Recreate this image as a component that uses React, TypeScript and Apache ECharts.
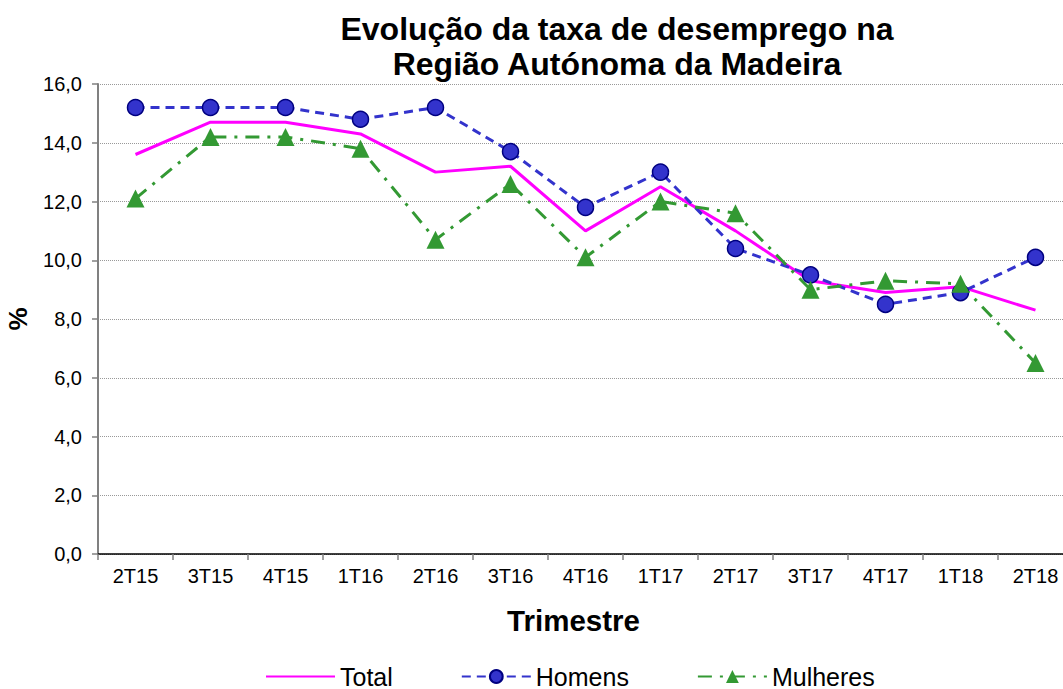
import React, { useEffect, useRef } from "react";
import * as echarts from "echarts";

const categories = ["2T15", "3T15", "4T15", "1T16", "2T16", "3T16", "4T16", "1T17", "2T17", "3T17", "4T17", "1T18", "2T18"];
const total = [13.6, 14.7, 14.7, 14.3, 13.0, 13.2, 11.0, 12.5, 11.0, 9.3, 8.9, 9.1, 8.3];
const homens = [15.2, 15.2, 15.2, 14.8, 15.2, 13.7, 11.8, 13.0, 10.4, 9.5, 8.5, 8.9, 10.1];
const mulheres = [12.1, 14.2, 14.2, 13.8, 10.7, 12.6, 10.1, 12.0, 11.6, 9.0, 9.3, 9.2, 6.5];

const FONT = "'Liberation Sans', Arial, sans-serif";

export default function App() {
  const ref = useRef<HTMLDivElement>(null);
  useEffect(() => {
    if (!ref.current) return;
    const chart = echarts.init(ref.current, null, { renderer: "svg" });
    chart.setOption({
      animation: false,
      backgroundColor: "#ffffff",
      textStyle: { fontFamily: FONT },
      title: {
        text: "Evolução da taxa de desemprego na\nRegião Autónoma da Madeira",
        left: 612,
        top: 6,
        textAlign: "center",
        textStyle: { fontFamily: FONT, fontSize: 32, fontWeight: "bold", color: "#000", lineHeight: 35 },
      },
      legend: {
        left: 260,
        top: 659,
        itemWidth: 69,
        itemHeight: 16,
        itemGap: 68,
        textStyle: { fontFamily: FONT, fontSize: 25, color: "#000" },
        data: [
          { name: "Total", itemStyle: { opacity: 0 } },
          { name: "Homens" },
          { name: "Mulheres" },
        ],
      },
      grid: { left: 98, top: 84, width: 975, height: 470, containLabel: false, outerBoundsMode: "none" },
      xAxis: {
        type: "category",
        data: categories,
        boundaryGap: true,
        name: "Trimestre",
        nameLocation: "middle",
        nameGap: 51,
        nameTextStyle: { fontFamily: FONT, fontSize: 29.5, fontWeight: "bold", color: "#000", padding: [0, 24, 0, 0] },
        axisLine: { lineStyle: { color: "#000", width: 1.5 } },
        axisTick: { show: true, length: 6, lineStyle: { color: "#808080", width: 1.5 } },
        axisLabel: { fontFamily: FONT, fontSize: 20, color: "#000", margin: 12 },
        splitLine: { show: false },
      },
      yAxis: {
        type: "value",
        min: 0,
        max: 16,
        interval: 2,
        name: "%",
        nameLocation: "middle",
        nameGap: 67,
        nameRotate: 90,
        nameTextStyle: { fontFamily: FONT, fontSize: 26, fontWeight: "bold", color: "#000" },
        axisLine: { show: true, lineStyle: { color: "#808080", width: 2 } },
        axisTick: { show: true, length: 6, lineStyle: { color: "#808080", width: 1.5 } },
        axisLabel: {
          fontFamily: FONT,
          fontSize: 20,
          color: "#000",
          margin: 16,
          formatter: (v: number) => v.toFixed(1).replace(".", ","),
        },
        splitLine: { show: true, lineStyle: { color: "#999", type: "dotted", width: 1 } },
      },
      series: [
        {
          name: "Total",
          type: "line",
          data: total,
          symbol: "none",
          lineStyle: { color: "#FF00FF", width: 3 },
          itemStyle: { color: "#FF00FF" },
        },
        {
          name: "Homens",
          type: "line",
          data: homens,
          symbol: "circle",
          symbolSize: 16,
          lineStyle: { color: "#3333CC", width: 3, type: [9, 6] },
          itemStyle: { color: "#3333CC", borderColor: "#000080", borderWidth: 1.5 },
        },
        {
          name: "Mulheres",
          type: "line",
          data: mulheres,
          symbol: "triangle",
          symbolSize: 18,
          lineStyle: { color: "#339933", width: 3, type: [14, 8, 3, 8] },
          itemStyle: { color: "#339933" },
        },
      ],
    });
    return () => chart.dispose();
  }, []);
  return (
    <div style={{ position: "absolute", left: 0, top: 0, width: 1063, height: 689, overflow: "hidden" }}>
      <div ref={ref} style={{ width: 1080, height: 689 }} />
    </div>
  );
}
